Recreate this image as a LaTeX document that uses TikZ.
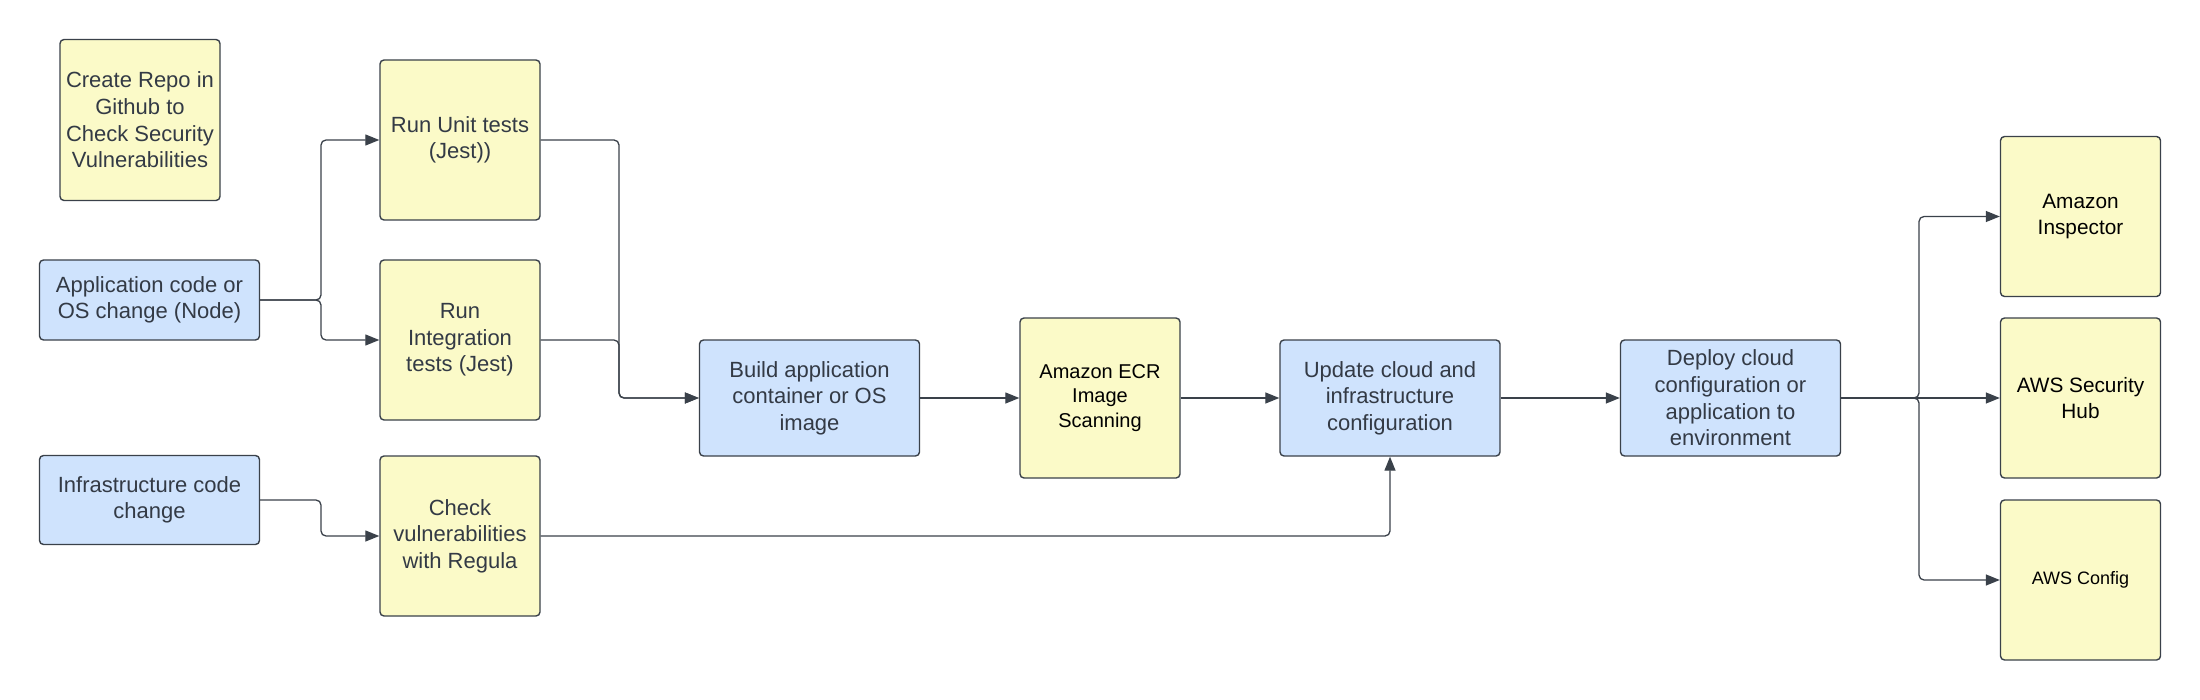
\documentclass[tikz,border=0pt]{standalone}
\usepackage{fontspec}
\setmainfont{Liberation Sans}
\usetikzlibrary{arrows.meta}
\definecolor{yfill}{HTML}{FBFAC8}
\definecolor{bfill}{HTML}{CFE3FD}
\definecolor{edgec}{HTML}{3A414A}
\definecolor{txt}{HTML}{333A45}
\tikzset{
  box/.style={draw=edgec, line width=0.7pt, rounded corners=2pt, align=center, inner sep=0pt,
    font=\fontsize{11}{13.3}\selectfont, text=txt},
  ybox/.style={box, fill=yfill, minimum width=80pt, minimum height=80pt},
  bbox/.style={box, fill=bfill, minimum width=110pt, minimum height=58pt},
  awsbox/.style={ybox, text=black, font=\fontsize{10.4}{12.8}\selectfont},
  conn/.style={draw=edgec, line width=0.65pt, rounded corners=2.5pt,
    -{Triangle[length=7pt,width=5.5pt]}},
  plain/.style={draw=edgec, line width=0.65pt, rounded corners=2.5pt}
}
\begin{document}
\begin{tikzpicture}[x=0.5pt,y=-0.5pt]
\useasboundingbox (0,0) rectangle (2200,700);

\node[ybox, minimum height=80.5pt] (repo) at (140,120) {Create Repo in\\Github to\\Check Security\\Vulnerabilities};
\node[bbox, minimum height=40pt] (app) at (149.5,300) {Application code or\\OS change (Node)};
\node[bbox, minimum height=44.5pt] (infra) at (149.5,500) {Infrastructure code\\change};

\node[ybox] (unit) at (460,140) {Run Unit tests\\(Jest))};
\node[ybox] (integ) at (460,340) {Run\\Integration\\tests (Jest)};
\node[ybox] (check) at (460,536) {Check\\vulnerabilities\\with Regula};

\node[bbox] (build) at (809.5,398) {Build application\\container or OS\\image};
\node[awsbox, font=\fontsize{10}{12.2}\selectfont] (ecr) at (1100,398) {Amazon ECR\\Image\\Scanning};
\node[bbox] (update) at (1390,398) {Update cloud and\\infrastructure\\configuration};
\node[bbox] (deploy) at (1730.5,398) {Deploy cloud\\configuration or\\application to\\environment};

\node[awsbox] (insp) at (2080.5,216.5) {Amazon\\Inspector};
\node[awsbox] (hub) at (2080.5,398) {AWS Security\\Hub};
\node[awsbox, font=\fontsize{9}{11}\selectfont] (config) at (2080.5,580) {AWS Config};

\coordinate (s1) at (321,300);
\coordinate (s2) at (321,500);
\coordinate (m1) at (619,398);
\coordinate (s3) at (1919,398);

\draw[conn] (app.east) -- (s1) |- (unit.west);
\draw[conn] (app.east) -- (s1) |- (integ.west);
\draw[conn] (infra.east) -- (s2) |- (check.west);
\draw[conn] (unit.east) -| (m1) -- (build.west);
\draw[conn] (integ.east) -| (m1) -- (build.west);
\draw[conn] (build.east) -- (ecr.west);
\draw[conn] (ecr.east) -- (update.west);
\draw[conn] (check.east) -| (update.south);
\draw[conn] (update.east) -- (deploy.west);
\draw[conn] (deploy.east) -- (s3) |- (insp.west);
\draw[conn] (deploy.east) -- (hub.west);
\draw[conn] (deploy.east) -- (s3) |- (config.west);
\end{tikzpicture}
\end{document}
